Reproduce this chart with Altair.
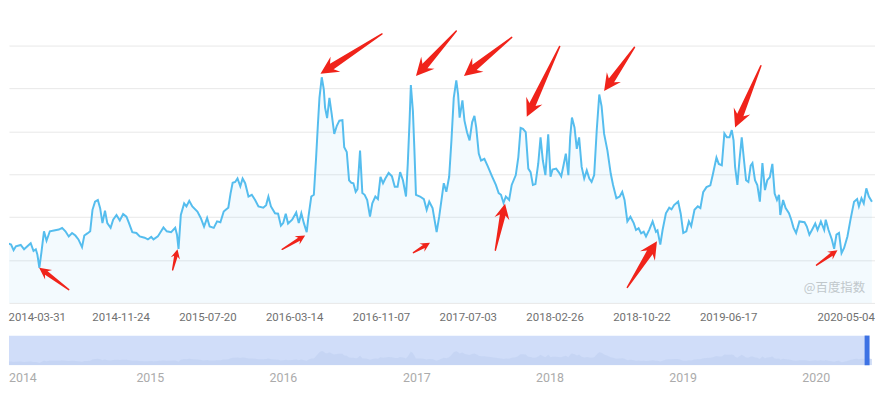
import math
import altair as alt
import pandas as pd

# ---------------- data ----------------
# weekly index (weeks since 2013-12-30) and index value
weeks = [
    0.2, 1.5, 2.8, 4.1, 5.1, 6.0, 7.9, 9.2, 10.5, 11.8, 12.9, 13.8, 14.4, 15.2, 16.0, 17.0, 18.0, 19.3,
    20.9, 22.8, 24.1, 25.4, 26.7, 28.0, 29.3, 30.5, 31.9, 32.8, 34.0, 35.1, 36.0, 37.0, 38.1, 39.0, 39.9,
    40.9, 41.8, 43.1, 44.1, 45.4, 46.7, 48.0, 49.3, 50.3, 51.6, 53.2, 54.5, 56.4, 57.7, 59.0, 59.9, 61.6,
    63.8, 65.1, 66.8, 68.4, 69.1, 69.7, 70.6, 71.9, 72.8, 73.9, 75.1, 77.1, 78.4, 79.7, 80.9, 81.9, 83.5,
    84.8, 86.1, 87.4,
    88.2, 89.2, 90.1, 90.9, 91.9, 92.8, 93.9, 94.8, 95.8, 97.1, 98.4, 99.7, 101.0, 102.9, 104.0, 104.9,
    105.9, 107.5, 108.7, 109.8, 110.7, 111.7, 112.6, 114.2, 115.8, 116.8, 117.8, 118.8, 119.9, 120.6,
    121.7, 122.7, 123.6, 124.3, 124.9, 125.8, 126.6, 127.1, 127.9, 128.8, 129.7, 130.7, 131.7, 132.7,
    133.9, 134.6, 135.6, 136.5, 137.4, 138.2, 139.1, 139.8, 140.8, 141.7, 142.6, 143.6, 144.7, 145.6,
    146.8, 147.8, 148.8, 149.8, 150.7, 152.0, 153.3, 154.4, 155.5, 156.5, 157.6, 158.8, 159.5, 160.2,
    160.7, 161.5, 162.1, 162.7, 164.3, 165.8, 166.9, 167.9, 169.2, 170.8, 171.8, 172.7, 173.6, 174.6,
    175.7, 176.6, 177.5, 178.5, 179.2, 179.8, 180.9, 181.7, 182.7, 183.7, 184.7, 185.6, 186.3, 187.3,
    188.2, 189.5, 190.8, 192.5, 194.0, 195.1, 196.0, 197.0, 197.9, 199.2, 200.2, 201.8, 202.8, 203.7,
    204.6, 205.7, 206.7, 207.6, 208.5, 209.5, 210.6, 211.5, 212.4, 213.4, 214.5, 215.4, 216.2, 217.6,
    218.6, 219.6, 220.5, 221.4, 222.4, 223.1, 223.8, 224.8, 225.7, 226.6, 227.6, 228.6, 229.6, 230.6,
    231.5, 232.5, 233.5, 234.5, 235.4, 236.4, 237.7, 239.0, 239.9, 241.2, 242.5, 243.5, 244.4, 245.5,
    246.7, 248.0, 248.9, 249.9, 250.9, 251.9, 252.8, 254.1, 255.4, 256.7, 257.3, 258.4, 259.3, 260.6,
    261.9, 262.8, 263.8, 265.4, 266.4, 267.4, 268.6, 269.6, 270.5, 271.8, 273.1, 274.1, 275.2, 276.5,
    278.0, 279.0, 280.4, 281.3, 282.5, 283.5, 284.5, 285.5, 286.4, 287.1, 287.7, 288.6, 289.4, 290.3,
    291.2, 292.0, 292.9, 293.8, 294.5, 295.5, 296.4, 297.4, 298.4, 299.4, 300.3, 301.3, 302.3, 303.2,
    304.1, 304.9, 305.4, 306.5, 307.5, 308.8, 309.7, 310.6, 311.6, 312.9, 314.9, 315.8, 316.8, 317.8,
    319.1, 320.0, 321.3, 322.6, 323.2, 324.3, 325.6, 326.5, 327.4, 328.4, 329.4, 330.4, 331.7, 332.9,
    334.3, 335.5, 336.2, 337.2, 338.1, 339.1, 340.1, 341.3,
]
values = [
    1130, 1250, 1390, 1360, 1230, 1320, 1350, 1250, 1320, 1390, 1210, 1250, 1130, 820, 1180, 1670, 1450, 1670,
    1690, 1710, 1750, 1670, 1550, 1630, 1570, 1480, 1300, 1570, 1620, 1670, 2170, 2360, 2400, 2210, 1860,
    2150, 1860, 1750, 1940, 2050, 1920, 2070, 2010, 1860, 1650, 1630, 1550, 1520, 1480, 1540, 1480, 1550,
    1760, 1670, 1650, 1750, 1590, 1260, 2050, 2320, 2250, 2380, 2250, 2130, 1980, 1780, 1980, 1780, 1750,
    1900, 1880, 2130,
    2170, 2220, 2560, 2800, 2820, 2900, 2720, 2900, 2790, 2480, 2520, 2400, 2250, 2220, 2280, 2480,
    2250, 2090, 2080, 1800, 1860, 2080, 1850, 1940, 2110, 1860, 2090, 1860, 1650, 2010,
    2480, 2520, 3400, 4170, 4780, 5260, 4980, 4550, 4310, 4780, 4400, 3940, 4130, 4250,
    4260, 3630, 3520, 2860, 2800, 2790, 2590, 2650, 3550, 2560, 2520, 2400, 2010, 2320,
    2480, 2420, 2940, 2790, 2900, 3030, 2950, 2710, 2710, 3050, 2860, 2480, 3250, 4250,
    5080, 4480, 3550, 2520, 2480, 2420, 2170, 2360, 2210, 1650, 2010, 2400, 2790, 2590,
    2940, 3790, 4780, 5190, 4860, 4320, 4720, 4250, 3980, 3790, 4210, 4360, 4090, 3480,
    3320, 3360, 3190, 2950, 2750, 2560, 2520, 2330, 2480, 2400, 2750, 2980, 3400, 4080,
    4060, 3980, 3130, 3050, 2750, 2770, 3250, 3860, 3320, 2980, 3930, 2940, 3110, 3130,
    3050, 2950, 3210, 3480, 2980, 3860, 4320, 4090, 3590, 3860, 3170, 2900, 3090, 2900,
    2820, 2980, 4020, 4860, 4590, 3940, 3550, 3010, 2750, 2440, 2480, 2590, 2400, 1900,
    2010, 1860, 1700, 1740, 1620, 1660, 1550, 1710, 1900, 1660, 1690, 1360, 1700, 2090,
    2220, 2180, 2280, 2360, 2080, 1630, 1670, 1900, 1790, 2170, 2250, 2210, 2580, 2700,
    2740, 3000, 3390, 3240, 3210, 3950, 3860, 3860, 4030, 3790, 3170, 2750, 3320, 3860,
    3320, 2860, 2820, 3200, 3260, 2860, 2750, 2360, 3260, 2630, 2860, 2930, 3240, 2550,
    2400, 2520, 2050, 2400, 2210, 2090, 1940, 1750, 1630, 1900, 1880, 1780, 1590, 1700,
    1850, 1700, 1900, 1700, 1940, 1700, 1480, 1260, 1590, 1630, 1160, 1280, 1550, 1940,
    2360, 2420, 2250, 2440, 2320, 2670, 2480, 2360,
]
assert len(weeks) == len(values)

tick_dates = ["2014-03-31", "2014-11-24", "2015-07-20", "2016-03-14", "2016-11-07",
              "2017-07-03", "2018-02-26", "2018-10-22", "2019-06-17", "2020-05-04"]
years = [2014, 2015, 2016, 2017, 2018, 2019, 2020]
grid_values = [0, 1000, 2000, 3000, 4000, 5000, 6000]

# red annotation arrows: tip and tail (week, value)
arrow_tip_week = [15.1, 69.3, 119.3, 125.3, 168.2, 162.7, 181.5, 197.6, 206.1, 236.4, 257.1, 287.7, 327.8]
arrow_tip_value = [820, 1250, 1570, 5340, 1400, 5290, 5290, 2310, 4340, 4940, 1440, 4090, 1230]
arrow_tail_week = [26.7, 67.4, 110.3, 149.4, 161.7, 178.5, 200.2, 193.8, 219.0, 248.3, 245.5, 297.8, 319.6]
arrow_tail_value = [310, 770, 1250, 6270, 1170, 6340, 6190, 1230, 5980, 5960, 360, 5530, 880]

watermark = "@百度指数"
zoom_end_week = 339.4

# ---------------- helpers ----------------
BASE_MS = int(pd.Timestamp("2013-12-30", tz="UTC").value // 10**6)
WEEK_MS = 7 * 86400000


def wk(w):
    return BASE_MS + w * WEEK_MS


W, H = 875, 296
XD0, XD1 = 3.295, 342.5
YMAX = 6830
LINE = "#55bdee"
RED = "#f0231a"

x_dom = [wk(XD0), wk(XD1)]
tick_ms = [int(pd.Timestamp(d, tz="UTC").value // 10**6) for d in tick_dates]

df = pd.DataFrame({"t": [wk(w) for w in weeks], "v": values})

x_enc = alt.X(
    "t:T",
    scale=alt.Scale(type="utc", domain=x_dom),
    axis=alt.Axis(
        values=tick_ms,
        labelExpr="utcFormat(datum.value, '%Y-%m-%d')",
        grid=False, ticks=False, domain=False, title=None,
        labelColor="#707070", labelFontSize=11.5, labelFont="Roboto",
        labelPadding=9,
        labelOffset={"condition": {"test": f"datum.value <= {tick_ms[0]}", "value": 3}, "value": 0},
    ),
)
y_enc = alt.Y(
    "v:Q",
    scale=alt.Scale(domain=[0, YMAX], nice=False, zero=True),
    axis=alt.Axis(values=grid_values, grid=True, gridColor="#e8e8e8", gridWidth=1,
                  labels=False, ticks=False, domain=False, title=None, minExtent=0),
)

# arrows geometry
PXW = W / (XD1 - XD0)
PXV = H / YMAX
trail_rows, head_rows = [], []
for i, (tw_, tv_, aw, av) in enumerate(zip(arrow_tip_week, arrow_tip_value, arrow_tail_week, arrow_tail_value)):
    dx = (aw - tw_) * PXW
    dy = -(av - tv_) * PXV
    L = math.hypot(dx, dy)
    hl = min(18.0, max(9.5, 0.32 * L))
    ang = math.degrees(math.atan2(-dx, dy)) % 360
    f = 0.76 * hl / L
    bw = tw_ + (aw - tw_) * f
    bv = tv_ + (av - tv_) * f
    trail_rows.append({"id": i, "ord": 0, "t": wk(aw), "v": av, "w": 1.5})
    trail_rows.append({"id": i, "ord": 1, "t": wk(bw), "v": bv, "w": 0.38 * hl})
    head_rows.append({"id": i, "t": wk(tw_), "v": tv_, "ang": ang, "s": 4 * hl * hl})
trail_df = pd.DataFrame(trail_rows)
head_df = pd.DataFrame(head_rows)

HEAD_PATH = "M0,0 L0.5,1 L0.19,0.76 L-0.19,0.76 L-0.5,1 Z"

area = alt.Chart(df).mark_area(color=LINE, opacity=0.07, clip=True).encode(x=x_enc, y=y_enc)
line = alt.Chart(df).mark_line(color=LINE, strokeWidth=2, clip=True).encode(x=x_enc, y=y_enc)
trail = alt.Chart(trail_df).mark_trail(color=RED).encode(
    x=x_enc, y=y_enc, size=alt.Size("w:Q", scale=None), detail="id:N", order=alt.Order("ord:Q"))
heads = alt.Chart(head_df).mark_point(shape=HEAD_PATH, filled=True, color=RED, opacity=1).encode(
    x=x_enc, y=y_enc, angle=alt.Angle("ang:Q", scale=None), size=alt.Size("s:Q", scale=None))
wm = alt.Chart(pd.DataFrame({"a": [0]})).mark_text(
    text=watermark, font="Noto Sans CJK SC", fontSize=12.5, color="#c9c9c9").encode(
    x=alt.value(834), y=alt.value(281))

main = alt.layer(wm, area, line, trail, heads).properties(width=W, height=H)

# ---------------- overview slider ----------------
sx = alt.X("t:T", scale=alt.Scale(type="utc", domain=x_dom), axis=None)
band_df = pd.DataFrame({"t": [wk(0)], "t2": [wk(zoom_end_week)]})
band = alt.Chart(band_df).mark_rect(color="#d0ddf9", clip=True).encode(x=sx, x2="t2:T")
sil = alt.Chart(df).mark_area(color="#c3d3f3", opacity=0.8, clip=True).encode(
    x=sx, y=alt.Y("v:Q", scale=alt.Scale(domain=[0, 11000], nice=False), axis=None))
handle = alt.Chart(pd.DataFrame({"t": [wk(zoom_end_week)]})).mark_rule(
    color="#3d72e4", strokeWidth=5).encode(x=sx)
year_df = pd.DataFrame({"t": [int(pd.Timestamp(f"{y}-01-01", tz="UTC").value // 10**6) for y in years],
                        "label": [str(y) for y in years], "y": years})
year_txt = alt.Chart(year_df).transform_filter("datum.y > 2014").mark_text(
    dx=16, fontSize=12.5, font="Roboto", color="#ababab").encode(x=sx, y=alt.value(43), text="label:N")
year_first = alt.Chart(year_df).transform_filter("datum.y == 2014").mark_text(
    align="left", fontSize=12.5, font="Roboto", color="#ababab").encode(
    x=alt.value(0), y=alt.value(43), text="label:N")

slider = alt.layer(band, sil, handle, year_txt, year_first).properties(width=W, height=30)

chart = alt.vconcat(main, slider, spacing=33, bounds="flush").resolve_scale(
    x="independent", y="independent").properties(padding=0).configure_view(strokeWidth=0)

chart.save("out.html", embed_options={"renderer": "svg", "actions": False})
